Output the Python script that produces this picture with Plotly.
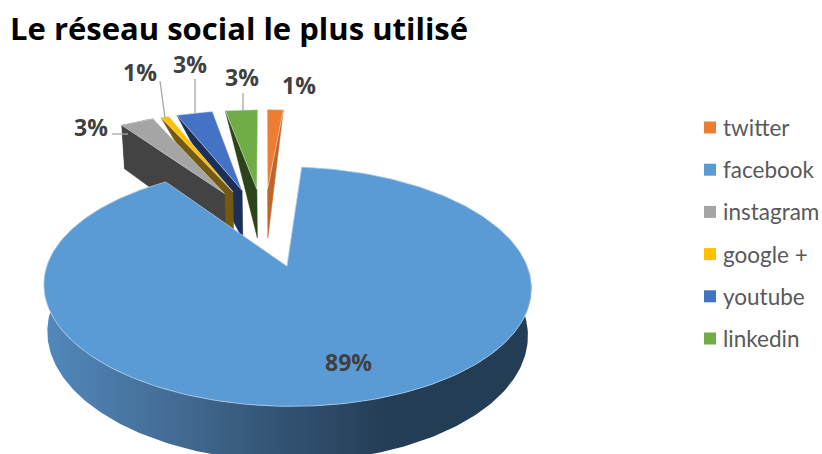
import numpy as np
import plotly.graph_objects as go

# --- data ---
categories = ["twitter", "facebook", "instagram", "google +", "youtube", "linkedin"]
shares = [1.4, 89.1, 2.9, 0.7, 3.1, 2.8]
labels = ["1%", "89%", "3%", "1%", "3%", "3%"]

# --- style ---
top_colors = ["#ED7D31", "#5B9BD5", "#A5A5A5", "#FFC000", "#4472C4", "#70AD47"]
wall_colors = ["#C0652A", "#2C4A66", "#434343", "#735A10", "#1C2F58", "#2D4419"]
rim_wall = [0, 1, 1, 0, 0, 0]   # how much of the outer wall height is drawn
label_xy = [(299, 85), (348, 362), (91, 127), (140, 72), (190, 64), (242, 77)]
leaders = [None, None, ((112, 134), (128, 134)), ((160, 81), (165, 118)),
           ((195, 79), (195, 113)), ((243, 93), (243, 111))]
draw_order = [0, 5, 4, 3, 2]     # small slices, back to front
LEGEND_MARKER_X, LEGEND_TEXT_X, LEGEND_TOP, LEGEND_STEP = 710, 723, 127.5, 42.2

# --- projection of the tilted disc ---
CX, CY, A, H, K, EXPLODE, DEPTH, SHRINK = 264, 226, 226, 103, 0.16, 0.38, 43, 0.014
SMALL_LIFT = 1.2


def project(u, v, lift=0.0):
    s = 1 / (1 + K * v)
    x = CX + A * u * s
    x = x - (x - 286) * SHRINK * lift
    return x, CY - H * v * s + DEPTH * s * lift


total = sum(shares)
edges = np.cumsum([0] + shares) / total * 360


def slice_geometry(i):
    a0, a1 = np.radians(edges[i]), np.radians(edges[i + 1])
    mid = (a0 + a1) / 2
    ou, ov = EXPLODE * np.sin(mid), EXPLODE * np.cos(mid)
    return a0, a1, ou, ov


fig = go.Figure()


def poly(xs, ys, color, **kw):
    fig.add_trace(go.Scatter(x=list(xs), y=list(ys), mode="lines", fill="toself",
                             fillcolor=color, line=dict(color=kw.pop("linecolor", color), width=kw.pop("lw", 0.5)),
                             hoverinfo="skip", showlegend=False, **kw))


for i in draw_order:
    a0, a1, ou, ov = slice_geometry(i)
    # left radial wall for slices left of the axis, right wall for twitter
    edge = a1 if i == 0 else a0
    ru, rv = ou + np.sin(edge), ov + np.cos(edge)
    p0 = project(ou, ov)
    p1 = project(ou, ov, SMALL_LIFT)
    p2 = project(ru, rv)
    p3 = project(ru, rv, rim_wall[i] * SMALL_LIFT)
    poly([p0[0], p1[0], p3[0], p2[0], p0[0]], [p0[1], p1[1], p3[1], p2[1], p0[1]], wall_colors[i])
    if rim_wall[i]:
        t = np.linspace(a0, a1, 12)
        xa, ya = project(ou + np.sin(t), ov + np.cos(t))
        xb, yb = project(ou + np.sin(t), ov + np.cos(t), SMALL_LIFT)
        poly(np.r_[xa, xb[::-1]], np.r_[ya, yb[::-1]], wall_colors[i])
    t = np.linspace(a0, a1, 12)
    x, y = project(ou + np.sin(t), ov + np.cos(t))
    poly(np.r_[p0[0], x, p0[0]], np.r_[p0[1], y, p0[1]], top_colors[i], linecolor="#E8EEF4", lw=0.5)

# facebook, in front of everything else
a0, a1, ou, ov = slice_geometry(1)
t = np.radians(np.linspace(75, 285, 200))
xa, ya = project(ou + np.sin(t), ov + np.cos(t))
xb, yb = project(ou + np.sin(t), ov + np.cos(t), 1)
fig.add_trace(go.Scatter(
    x=np.r_[xa, xb[::-1], xa[0]], y=np.r_[ya, yb[::-1], ya[0]], mode="lines", fill="toself",
    line=dict(width=0, color="rgba(0,0,0,0)"), hoverinfo="skip", showlegend=False,
    fillgradient=dict(type="horizontal", start=45, stop=525,
                      colorscale=[[0, "#5288BC"], [0.3, "#41688F"], [0.5, "#325272"],
                                  [0.72, "#233D54"], [1, "#233D54"]])))
t = np.linspace(a0, a1, 300)
x, y = project(ou + np.sin(t), ov + np.cos(t))
ax, ay = project(ou, ov)
poly(np.r_[ax, x, ax], np.r_[ay, y, ay], top_colors[1], linecolor="#A9C9E8", lw=0.8)

# legend: square keys and names
legend_y = [LEGEND_TOP + k * LEGEND_STEP for k in range(len(categories))]
fig.add_trace(go.Scatter(x=[LEGEND_MARKER_X] * len(categories), y=legend_y, mode="markers",
                         marker=dict(symbol="square", size=12, color=top_colors),
                         hoverinfo="skip", showlegend=False))
for name, ly in zip(categories, legend_y):
    fig.add_annotation(x=LEGEND_TEXT_X, y=ly, text=name, showarrow=False, xanchor="left",
                       xshift=-2, font=dict(family="Lato", size=22.5, color="#595959"))

# labels and leader lines
for lab, (lx, ly), lead in zip(labels, label_xy, leaders):
    fig.add_annotation(x=lx, y=ly, text=f"<b>{lab}</b>", showarrow=False,
                       font=dict(family="Open Sans", size=23, color="#404040"))
    if lead:
        fig.add_shape(type="line", x0=lead[0][0], y0=lead[0][1], x1=lead[1][0], y1=lead[1][1],
                      line=dict(color="#A6A6A6", width=1.3))

fig.add_annotation(x=10, y=27.5, text="<b>Le réseau social le plus utilisé</b>", showarrow=False,
                   xanchor="left", xshift=-2, font=dict(family="Open Sans", size=31, color="#000000"))

fig.update_layout(
    width=822, height=454, margin=dict(l=0, r=0, t=0, b=0),
    paper_bgcolor="white", plot_bgcolor="white", showlegend=False,
    xaxis=dict(range=[0, 822], visible=False, fixedrange=True),
    yaxis=dict(range=[454, 0], visible=False, fixedrange=True),
)
fig.write_html("out.html", config={"displayModeBar": False},
               post_script="document.body.style.margin='0';")
